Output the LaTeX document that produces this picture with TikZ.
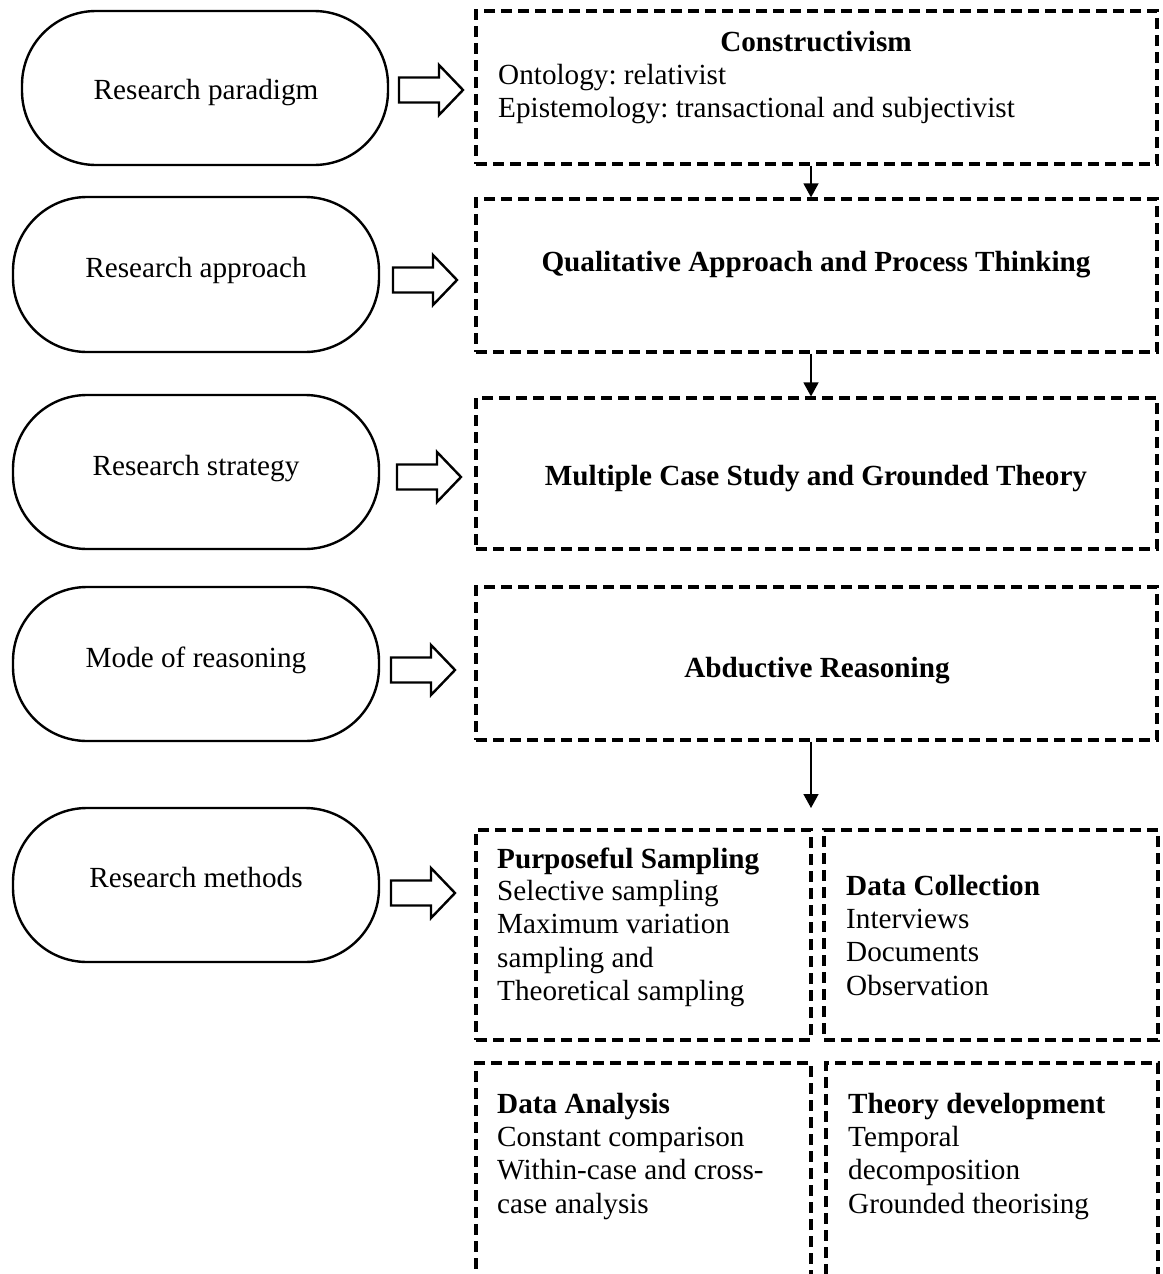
\documentclass[tikz,border=0pt]{standalone}
\usepackage{fontspec}
\setmainfont{Liberation Serif}
\frenchspacing
\usetikzlibrary{arrows.meta}
\begin{document}
\begin{tikzpicture}[x=1pt,y=-1pt,
  font=\fontsize{29.2}{33.5}\selectfont,
  stage/.style={draw, line width=2.4pt, rounded corners=74pt, inner sep=0pt, minimum width=366pt},
  frame/.style={draw, line width=3.2pt, dash pattern=on 11pt off 6pt, inner sep=0pt},
  caption/.style={anchor=base, inner sep=0pt},
  item/.style={anchor=base west, inner sep=0pt},
  title/.style={anchor=base, inner sep=0pt, font=\fontsize{29.2}{33.5}\selectfont\bfseries},
  link/.style={line width=1.5pt, -{Triangle[width=15pt,length=14pt]}},
  fatarrow/.pic={\draw[line width=2.4pt, miter limit=10]
    (-64,-12.5) -- (-24,-12.5) -- (-24,-25) -- (0,0) -- (-24,25) -- (-24,12.5) -- (-64,12.5) -- cycle;}
]
\useasboundingbox (0,0) rectangle (1162,1274);
\clip (0,0) rectangle (1162,1274);

% left column: the five levels
\node[stage, minimum height=154pt] (s1) at (205,88) {};
\node[stage, minimum height=155pt] (s2) at (196,274.5) {};
\node[stage, minimum height=154pt] (s3) at (196,472) {};
\node[stage, minimum height=154pt] (s4) at (196,664) {};
\node[stage, minimum height=154pt] (s5) at (196,885) {};
\node[caption] (t1) at (206,99) {Research paradigm};
\node[caption] (t2) at (196,277) {Research approach};
\node[caption] (t3) at (196,475) {Research strategy};
\node[caption] (t4) at (196,667) {Mode of reasoning};
\node[caption] (t5) at (196,887) {Research methods};

% block arrows between the columns
\pic (p1) at (463,90) {fatarrow};
\pic (p2) at (457,280) {fatarrow};
\pic (p3) at (461,477) {fatarrow};
\pic (p4) at (455,670) {fatarrow};
\pic (p5) at (455,893) {fatarrow};

% right column: dashed boxes
\node[frame, minimum width=681pt, minimum height=153pt] (b1) at (816.5,87.5) {};
\node[frame, minimum width=681pt, minimum height=153pt] (b2) at (816.5,275.5) {};
\node[frame, minimum width=681pt, minimum height=151pt] (b3) at (816.5,473.5) {};
\node[frame, minimum width=681pt, minimum height=153pt] (b4) at (816.5,663.5) {};
\node[frame, minimum width=335pt, minimum height=210pt] (b5a) at (643.5,935) {};
\node[frame, minimum width=334pt, minimum height=210pt] (b5b) at (991,935) {};
\node[frame, minimum width=335pt, minimum height=257pt] (b6a) at (643.5,1191.5) {};
\node[frame, minimum width=332pt, minimum height=257pt] (b6b) at (992,1191.5) {};

% vertical connectors
\coordinate (axis) at (811,0);
\coordinate (fork) at (811,808);
\draw[link] (b1.south -| axis) -- (b2.north -| axis);
\draw[link] (b2.south -| axis) -- (b3.north -| axis);
\draw[link] (b4.south -| axis) -- (fork);

% box contents
\node[title] (h1) at (816,51) {Constructivism};
\node[item] (o1) at (498,84) {Ontology: relativist};
\node[item] (e1) at (498,117) {Epistemology: transactional and subjectivist};
\node[title] (h2) at (816,271) {Qualitative Approach and Process Thinking};
\node[title] (h3) at (816,485) {Multiple Case Study and Grounded Theory};
\node[title] (h4) at (817,677) {Abductive Reasoning};

\node[title, anchor=base west] (h5a) at (497,868) {Purposeful Sampling};
\foreach \txt [count=\i from 1] in {Selective sampling, Maximum variation, sampling and, Theoretical sampling}
  \node[item] (ps\i) at (497,866.5+33.5*\i) {\txt};

\node[title, anchor=base west] (h5b) at (846,895) {Data Collection};
\foreach \txt [count=\i from 1] in {Interviews, Documents, Observation}
  \node[item] (dc\i) at (846,894.5+33.5*\i) {\txt};

\node[title, anchor=base west] (h6a) at (497,1113) {Data Analysis};
\foreach \txt [count=\i from 1] in {Constant comparison, Within-case and cross-, case analysis}
  \node[item] (da\i) at (497,1112.5+33.5*\i) {\txt};

\node[title, anchor=base west] (h6b) at (848,1113) {Theory development};
\foreach \txt [count=\i from 1] in {Temporal, decomposition, Grounded theorising}
  \node[item] (td\i) at (848,1112.5+33.5*\i) {\txt};
\end{tikzpicture}
\end{document}
